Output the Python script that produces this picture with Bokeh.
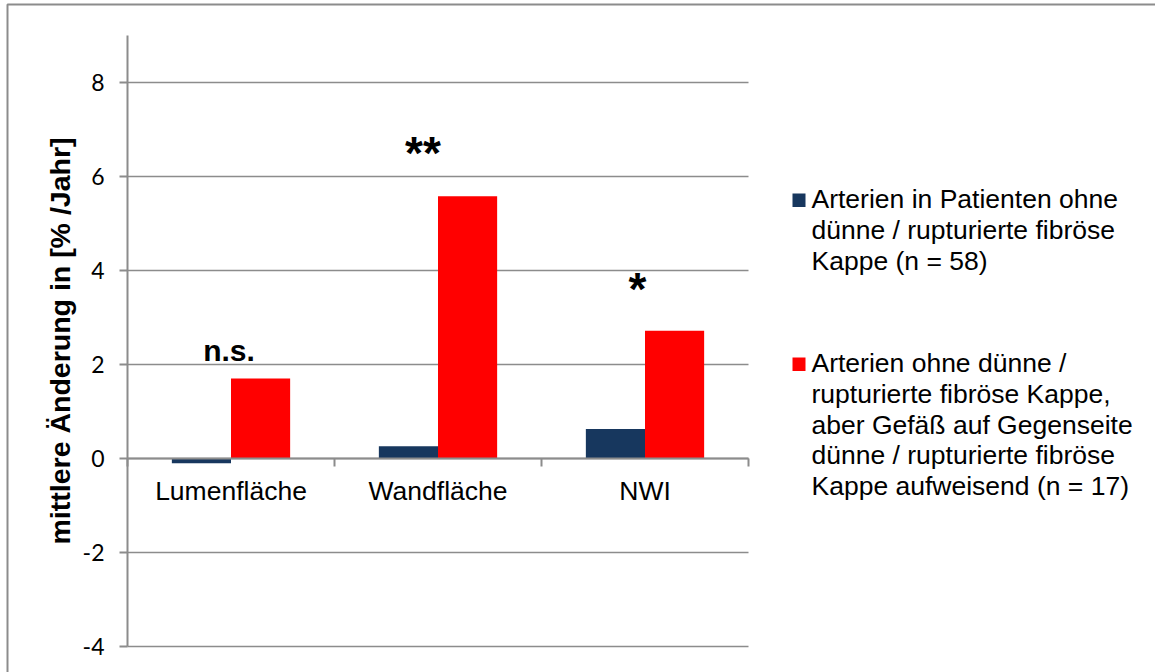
from bokeh.plotting import figure
from bokeh.models import Range1d, LinearAxis, FixedTicker
from bokeh.core.properties import value
from bokeh.embed import file_html
from bokeh.resources import INLINE

# --- data -------------------------------------------------------------
categories = ["Lumenfläche", "Wandfläche", "NWI"]
ohne_kappe = [-0.10, 0.26, 0.63]        # Arterien in Patienten ohne dünne / rupturierte fibröse Kappe
gegenseite = [1.70, 5.58, 2.72]         # Arterien ohne Kappe, Gegenseite mit Kappe
significance = ["n.s.", "**", "*"]
y_ticks = [-4, -2, 0, 2, 4, 6, 8]
legend_lines = [
    ["Arterien in Patienten ohne", "dünne / rupturierte fibröse", "Kappe (n = 58)"],
    ["Arterien ohne dünne /", "rupturierte fibröse Kappe,", "aber Gefäß auf Gegenseite",
     "dünne / rupturierte fibröse", "Kappe aufweisend (n = 17)"],
]
colors = ["#17375E", "#FF0000"]

# --- layout: the frame fills the canvas; data 0..3 spans x 127..748 px,
#     y = 0 sits at 458 px with 47 px per unit -----------------------
W, H = 1155, 672
FRAME_LEFT, PX_PER_CAT = 127, 207
ZERO_Y, PX_PER_UNIT = 458, 47
TEXT_SHIFT = 9   # baseline correction for text glyphs


def sx(px):
    return (px - FRAME_LEFT) / PX_PER_CAT


def sy(py):
    return (ZERO_Y - py) / PX_PER_UNIT


GRAY = "#8c8c8c"
ARIAL = value("Liberation Sans")
n_cat = len(categories)

p = figure(width=W, height=H, output_backend="svg", toolbar_location=None,
           x_range=Range1d(sx(0), sx(W)), y_range=Range1d(sy(H), sy(0)),
           x_axis_location=None, y_axis_location=None,
           min_border=0)
p.outline_line_color = None
p.background_fill_color = "white"
p.border_fill_color = "white"
p.grid.visible = False

# horizontal gridlines across the category span only
p.segment(x0=[0] * len(y_ticks), x1=[n_cat] * len(y_ticks), y0=y_ticks, y1=y_ticks,
          line_color=GRAY, line_width=1.6)

# value axis at x = 0
yax = LinearAxis(fixed_location=0, bounds=(-4, 9),
                 ticker=FixedTicker(ticks=y_ticks),
                 major_label_overrides={t: str(t) for t in y_ticks},
                 axis_line_color=GRAY, axis_line_width=2,
                 major_tick_line_color=GRAY, major_tick_line_width=2,
                 major_tick_out=8, major_tick_in=0,
                 minor_tick_line_color=None,
                 major_label_text_font="Lato", major_label_text_font_size="23px",
                 major_label_text_color="black", major_label_standoff=15,
                 axis_label="mittlere Änderung in [% /Jahr]",
                 axis_label_text_font="Liberation Sans",
                 axis_label_text_font_style="bold",
                 axis_label_text_font_size="28.5px",
                 axis_label_text_color="black", axis_label_standoff=4)
p.add_layout(yax, "left")

# category axis along the zero line, ticks at the category boundaries
xax = LinearAxis(fixed_location=0, bounds=(0, n_cat),
                 ticker=FixedTicker(ticks=list(range(n_cat + 1))),
                 major_label_overrides={i: "" for i in range(n_cat + 1)},
                 major_label_text_font_size="1px", major_label_standoff=0,
                 axis_line_color=GRAY, axis_line_width=2,
                 major_tick_line_color=GRAY, major_tick_line_width=2,
                 major_tick_out=8, major_tick_in=0,
                 minor_tick_line_color=None)
p.add_layout(xax, "below")

# bars (gap width 150 %)
centers = [i + 0.5 for i in range(n_cat)]
bw = 1 / 3.5
p.vbar(x=[c - bw / 2 for c in centers], top=ohne_kappe, bottom=0, width=bw,
       fill_color=colors[0], line_color=None)
p.vbar(x=[c + bw / 2 for c in centers], top=gegenseite, bottom=0, width=bw,
       fill_color=colors[1], line_color=None)

# category labels under the zero line
p.text(x=centers, y=[0] * n_cat, text=categories,
       text_align="center", text_baseline="alphabetic", y_offset=41 - TEXT_SHIFT,
       text_font=ARIAL, text_font_size="26.5px", text_color="black")

# significance markers
p.text(x=[sx(228.5)], y=[sy(359 - TEXT_SHIFT)], text=[significance[0]],
       text_align="center", text_baseline="alphabetic",
       text_font=ARIAL, text_font_style="bold", text_font_size="30px", text_color="black")
p.text(x=[sx(422.5), sx(637)], y=[sy(152), sy(288)], text=significance[1:],
       text_align="center", text_baseline="alphabetic",
       text_font=ARIAL, text_font_style="bold", text_font_size="46px", text_color="black")

# legend
entry_tops = [193, 357]
entry_baselines = [207.5, 371.5]
LINE_H = 30.8
for k, lines in enumerate(legend_lines):
    top = entry_tops[k]
    p.quad(left=[sx(792)], right=[sx(805)], top=[sy(top)], bottom=[sy(top + 13.5)],
           fill_color=colors[k], line_color=None)
    p.text(x=[sx(811)] * len(lines),
           y=[sy(entry_baselines[k] - TEXT_SHIFT + j * LINE_H) for j in range(len(lines))],
           text=lines, text_align="left", text_baseline="alphabetic",
           text_font=ARIAL, text_font_size="26.5px", text_color="black")

# outer chart-area border
p.quad(left=[sx(7)], right=[sx(W + 20)], top=[sy(4)], bottom=[sy(H + 20)],
       fill_color=None, line_color=GRAY, line_width=2)

open("out.html", "w").write(file_html(p, INLINE))
